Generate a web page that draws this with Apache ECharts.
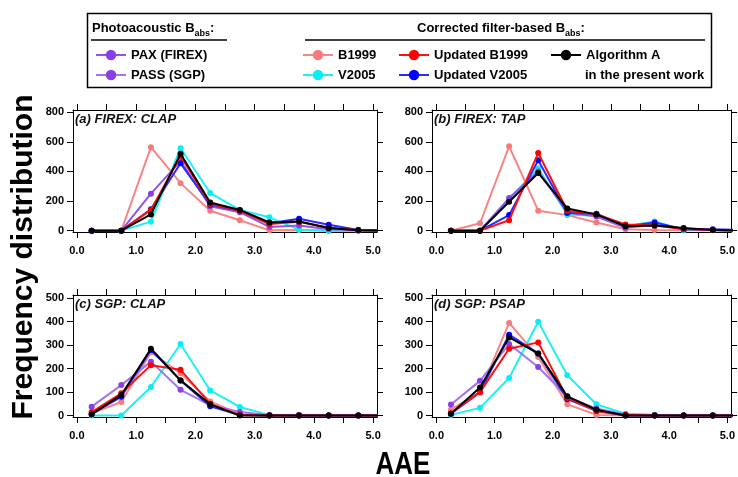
<!DOCTYPE html>
<html><head><meta charset="utf-8">
<script src="https://cdn.jsdelivr.net/npm/echarts@6/dist/echarts.min.js"></script>
<style>html,body{margin:0;padding:0;background:#fff}#c{width:738px;height:477px}</style>
</head><body><div id="c"></div>
<script>
// ---- data ----
const aaeBins = [0.25, 0.75, 1.25, 1.75, 2.25, 2.75, 3.25, 3.75, 4.25, 4.75, 5.25];
const xTickLabels = [0, 1, 2, 3, 4, 5];
const xTickMarks = [0, 0.5, 1, 1.5, 2, 2.5, 3, 3.5, 4, 4.5, 5];
const yTicksFirex = [0, 200, 400, 600, 800];
const yTicksSgp = [0, 100, 200, 300, 400, 500];

// (a) FIREX: CLAP
const paxA    = [0, 0, 250, 470, 165, 125, 25, 35, 10, 5, 5];
const b1999A  = [0, 0, 564, 321, 135, 70, 2, 5, 0, 0, 0];
const v2005A  = [0, 0, 61, 557, 254, 140, 90, 7, 0, 0, 0];
const ub1999A = [0, 0, 140, 505, 180, 135, 45, 60, 20, 3, 0];
const uv2005A = [0, 0, 145, 455, 175, 135, 50, 80, 40, 5, 0];
const algA    = [0, 0, 110, 520, 190, 140, 55, 62, 18, 3, 0];
// (b) FIREX: TAP
const paxB    = [0, 0, 220, 400, 125, 95, 20, 40, 10, 5, 5];
const b1999B  = [0, 50, 570, 135, 105, 55, 10, 5, 3, 2, 0];
const v2005B  = [0, 0, 215, 420, 110, 100, 30, 62, 5, 5, 0];
const ub1999B = [0, 0, 70, 525, 135, 110, 42, 35, 12, 5, 0];
const uv2005B = [0, 0, 105, 475, 120, 115, 30, 55, 10, 10, 5];
const algB    = [0, 0, 195, 390, 150, 110, 30, 35, 18, 5, 0];
// (c) SGP: CLAP
const passC    = [38, 130, 230, 110, 45, 15, 3, 3, 0, 0, 0];
const b1999C   = [10, 58, 270, 180, 60, 5, 0, 0, 0, 0, 0];
const v2005C   = [0, 0, 122, 305, 107, 37, 2, 0, 0, 0, 0];
const ub1999C  = [15, 95, 215, 195, 50, 2, 0, 0, 0, 0, 0];
const uv2005C  = [8, 80, 280, 150, 40, 2, 0, 0, 0, 0, 0];
const algC     = [5, 88, 285, 150, 48, 0, 0, 0, 0, 0, 0];
// (d) SGP: PSAP
const passD    = [47, 148, 305, 207, 80, 30, 5, 3, 0, 0, 0];
const b1999D   = [25, 100, 395, 250, 48, 3, 0, 0, 0, 0, 0];
const v2005D   = [3, 33, 160, 400, 172, 48, 8, 2, 0, 0, 0];
const ub1999D  = [10, 100, 285, 312, 75, 20, 2, 0, 0, 0, 0];
const uv2005D  = [8, 100, 345, 265, 70, 20, 0, 0, 0, 0, 0];
const algD     = [8, 120, 333, 265, 82, 25, 0, 0, 0, 0, 0];

const panelTitles = ['(a) FIREX: CLAP', '(b) FIREX: TAP', '(c) SGP: CLAP', '(d) SGP: PSAP'];
const seriesNames = ['B1999', 'V2005', 'PHOTO', 'Updated V2005', 'Updated B1999', 'Algorithm A'];

// ---- styling / layout ----
const FF = '"Liberation Sans", Arial, sans-serif';
const styleOf = {
  'B1999':        { c: '#f77b7b', l: '#f78585' },
  'V2005':        { c: '#08eef2', l: '#1ef0f2' },
  'PAX (FIREX)':  { c: '#8a3ee6', l: '#9352ea' },
  'PASS (SGP)':   { c: '#8a3ee6', l: '#a274ee' },
  'Updated V2005':{ c: '#0000ff', l: '#2a2aff' },
  'Updated B1999':{ c: '#ff0000', l: '#ff1010' },
  'Algorithm A':  { c: '#000000', l: '#000000' }
};
const panels = [
  { photo: 'PAX (FIREX)', vals: [b1999A, v2005A, paxA, uv2005A, ub1999A, algA], yTicks: yTicksFirex, ymin: -9, ymax: 815,
    grid: { left: 73, top: 110, width: 304, height: 122 }, xmin: -0.065, xmax: 5.065, tl: 75, tt: 111 },
  { photo: 'PAX (FIREX)', vals: [b1999B, v2005B, paxB, uv2005B, ub1999B, algB], yTicks: yTicksFirex, ymin: -9, ymax: 815,
    grid: { left: 432, top: 110, width: 303, height: 122 }, xmin: -0.075, xmax: 5.065, tl: 434, tt: 111 },
  { photo: 'PASS (SGP)', vals: [b1999C, v2005C, passC, uv2005C, ub1999C, algC], yTicks: yTicksSgp, ymin: -6, ymax: 514,
    grid: { left: 73, top: 295, width: 304, height: 122 }, xmin: -0.065, xmax: 5.065, tl: 75, tt: 296 },
  { photo: 'PASS (SGP)', vals: [b1999D, v2005D, passD, uv2005D, ub1999D, algD], yTicks: yTicksSgp, ymin: -6, ymax: 514,
    grid: { left: 432, top: 295, width: 303, height: 122 }, xmin: -0.075, xmax: 5.065, tl: 434, tt: 296 }
];

const labelStyle = { fontSize: 11, fontWeight: 'bold', color: '#000', fontFamily: FF };
const grids = [], xAxes = [], yAxes = [], series = [], titles = [];

panels.forEach((p, gi) => {
  grids.push(Object.assign({ containLabel: false }, p.grid));
  const xBase = {
    type: 'value', gridIndex: gi, min: p.xmin, max: p.xmax,
    axisLine: { show: true, onZero: false, lineStyle: { color: '#000', width: 1 } },
    axisTick: { show: true, inside: false, length: 6, customValues: xTickMarks, lineStyle: { color: '#000' } },
    splitLine: { show: false }
  };
  xAxes.push(Object.assign({}, xBase, { position: 'bottom',
    axisLabel: Object.assign({ customValues: xTickLabels, formatter: v => v.toFixed(1), margin: 13 }, labelStyle) }));
  xAxes.push(Object.assign({}, xBase, { position: 'top', axisLabel: { show: false } }));
  const yBase = {
    type: 'value', gridIndex: gi, min: p.ymin, max: p.ymax,
    axisLine: { show: true, onZero: false, lineStyle: { color: '#000', width: 1 } },
    axisTick: { show: true, inside: false, length: 6, customValues: p.yTicks, lineStyle: { color: '#000' } },
    splitLine: { show: false }
  };
  yAxes.push(Object.assign({}, yBase, { position: 'left',
    axisLabel: Object.assign({ customValues: p.yTicks, margin: 9 }, labelStyle) }));
  yAxes.push(Object.assign({}, yBase, { position: 'right', axisLabel: { show: false } }));

  seriesNames.forEach((sn, si) => {
    const name = sn === 'PHOTO' ? p.photo : sn;
    const st = styleOf[name];
    series.push({
      type: 'line', name: name, xAxisIndex: gi * 2, yAxisIndex: gi * 2,
      data: aaeBins.map((x, i) => [x, p.vals[si][i]]),
      symbol: 'circle', symbolSize: 6, showSymbol: true, clip: true,
      itemStyle: { color: st.c },
      lineStyle: { color: st.l, width: 2 },
      emphasis: { disabled: true }, z: 2 + si
    });
  });
  titles.push({ text: panelTitles[gi], left: p.tl, top: p.tt, padding: 0,
    textStyle: { fontSize: 13, fontWeight: 'bold', fontStyle: 'italic', color: '#111', fontFamily: FF, lineHeight: 16 } });
});

const headStyle = { fontSize: 13, fontWeight: 'bold', color: '#000', fontFamily: FF, lineHeight: 20,
  rich: { sub: { fontSize: 9, fontWeight: 'bold', color: '#000', fontFamily: FF, lineHeight: 9, verticalAlign: 'bottom' } } };
titles.push({ text: 'Photoacoustic B{sub|abs}:', left: 92, top: 18, padding: 0, textStyle: headStyle });
titles.push({ text: 'Corrected filter-based B{sub|abs}:', left: 417, top: 18, padding: 0, textStyle: headStyle });
titles.push({ text: 'in the present work', left: 585, top: 67, padding: 0,
  textStyle: { fontSize: 13, fontWeight: 'bold', color: '#000', fontFamily: FF, lineHeight: 16 } });

const legText = { fontSize: 13, fontWeight: 'bold', color: '#000', fontFamily: FF };
const legBase = { orient: 'vertical', itemWidth: 30, itemHeight: 13, itemGap: 7, padding: 0, top: 48.5,
  selectedMode: false, textStyle: legText };
const legends = [
  Object.assign({}, legBase, { left: 95, data: ['PAX (FIREX)', 'PASS (SGP)'] }),
  Object.assign({}, legBase, { left: 302, data: ['B1999', 'V2005'] }),
  Object.assign({}, legBase, { left: 398, data: ['Updated B1999', 'Updated V2005'] }),
  Object.assign({}, legBase, { left: 550, data: ['Algorithm A'] })
];

const chart = echarts.init(document.getElementById('c'), null, { renderer: 'canvas' });
chart.setOption({
  animation: false,
  backgroundColor: '#fff',
  title: titles,
  legend: legends,
  grid: grids,
  xAxis: xAxes,
  yAxis: yAxes,
  series: series,
  graphic: [
    { type: 'rect', shape: { x: 87.5, y: 13.5, width: 624, height: 74 }, style: { fill: 'none', stroke: '#000', lineWidth: 1.5 }, silent: true },
    { type: 'line', shape: { x1: 91, y1: 40, x2: 227, y2: 40 }, style: { stroke: '#000', lineWidth: 1.5 }, silent: true },
    { type: 'line', shape: { x1: 305, y1: 40, x2: 705, y2: 40 }, style: { stroke: '#000', lineWidth: 1.5 }, silent: true },
    { type: 'text', x: 24, y: 257, rotation: Math.PI / 2, silent: true,
      style: { text: 'Frequency distribution', fontSize: 30, fontWeight: 'bold', fontFamily: FF, fill: '#000', align: 'center', verticalAlign: 'middle' } },
    { type: 'text', x: 403, y: 465, scaleY: 1.2, silent: true,
      style: { text: 'AAE', fontSize: 26, fontWeight: 'bold', fontFamily: FF, fill: '#000', align: 'center', verticalAlign: 'middle' } }
  ]
});
</script>
</body></html>
